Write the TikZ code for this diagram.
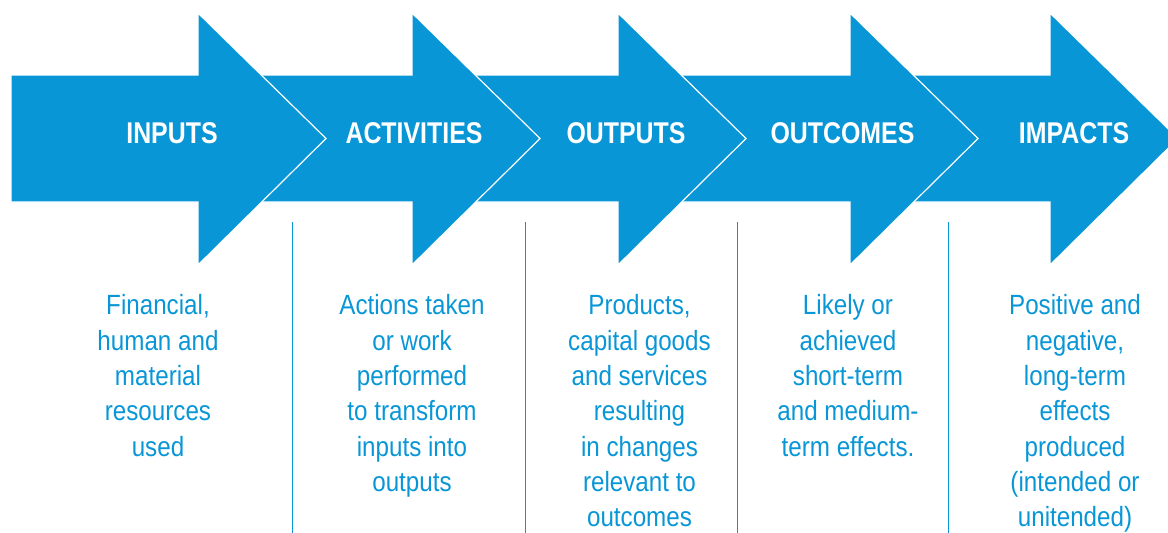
\documentclass[tikz,border=0pt]{standalone}
\usepackage{fontspec}
\setmainfont{Liberation Sans}
\newfontfamily\lftitlefont{Liberation Sans}[FakeStretch=0.83]
\newfontfamily\lfdescfont{Liberation Sans}[FakeStretch=0.87]
\definecolor{lfblue}{RGB}{9,150,214}
\begin{document}
\begin{tikzpicture}[x=1pt,y=-1pt,
  arrowshape/.style={fill=lfblue,draw=white,line width=1.2pt,line join=miter},
  titletext/.style={text=white,inner sep=0pt,anchor=center,
    font={\lftitlefont\bfseries\fontsize{30pt}{36pt}\selectfont}},
  desctext/.style={text=lfblue,inner sep=0pt,anchor=north,align=center,
    font={\lfdescfont\fontsize{27.8pt}{35.3pt}\selectfont}},
  sepline/.style={draw=lfblue,line width=1pt}]
\useasboundingbox (0,0) rectangle (1168,533);
\clip (0,0) rectangle (1168,533);
% arrows, drawn from last to first
\foreach \xl/\xb in {870/1050, 638/850, 432/618, 218/412, 11/198}{
  \draw[arrowshape] (\xl,75) -- (\xb,75) -- (\xb,13) -- (\xb+128,138.5)
    -- (\xb,265) -- (\xb,202) -- (\xl,202) -- cycle;
}
% titles
\node[titletext] (t1) at (172,133.5) {INPUTS};
\node[titletext] (t2) at (414,133.5) {ACTIVITIES};
\node[titletext] (t3) at (626,133.5) {OUTPUTS};
\node[titletext] (t4) at (842.5,133.5) {OUTCOMES};
\node[titletext] (t5) at (1074,133.5) {IMPACTS};
% separators
\foreach \sx/\nm in {292.7/s1, 525/s2, 737/s3, 948.7/s4}{
  \coordinate (\nm a) at (\sx,222);
  \coordinate (\nm b) at (\sx,533);
  \draw[sepline] (\nm a) -- (\nm b);
}
% descriptions
\node[desctext] (d1) at (158,294.5) {Financial,\\human and\\material\\resources\\used};
\node[desctext] (d2) at (412,294.5) {Actions taken\\or work\\performed\\to transform\\inputs into\\outputs};
\node[desctext] (d3) at (639.5,294.5) {Products,\\capital goods\\and services\\resulting\\in changes\\relevant to\\outcomes};
\node[desctext] (d4) at (848,294.5) {Likely or\\achieved\\short-term\\and medium-\\term effects.};
\node[desctext] (d5) at (1075,294.5) {Positive and\\negative,\\long-term\\effects\\produced\\(intended or\\unitended)};
\end{tikzpicture}
\end{document}
